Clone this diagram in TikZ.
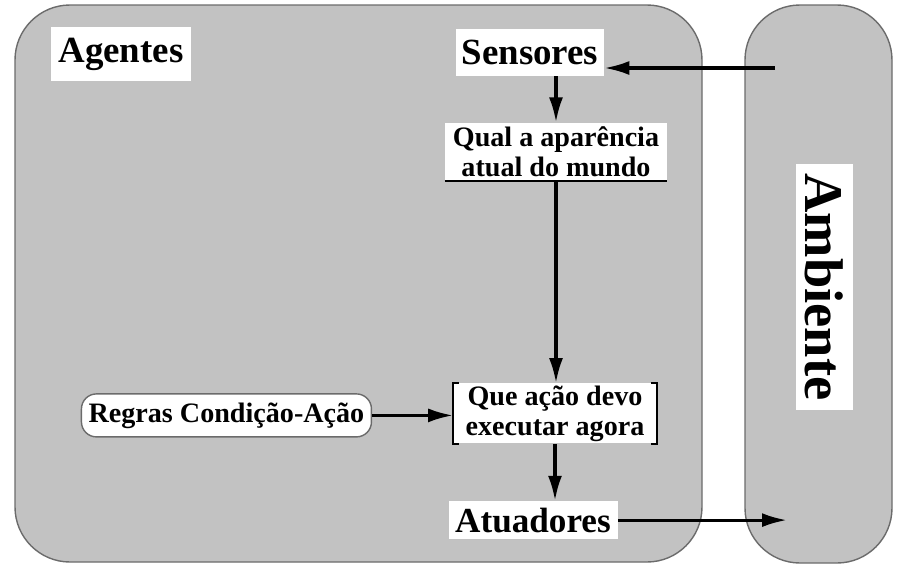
\documentclass[tikz,border=0pt]{standalone}
\usepackage{fontspec}
\setmainfont{Liberation Serif}
\usetikzlibrary{arrows.meta, positioning}
\definecolor{panelgray}{gray}{0.76}
\definecolor{edgegray}{gray}{0.42}
\tikzset{
    panel/.style={fill=panelgray, draw=edgegray, line width=0.8pt, rounded corners=1.1cm},
    box/.style={fill=white, inner sep=0pt, align=center, font=\bfseries\fontsize{16}{17}\selectfont},
    bigbox/.style={fill=white, inner sep=0pt, font=\bfseries\fontsize{21}{22}\selectfont},
    arrow/.style={-{Latex[length=0.5cm, width=0.28cm]}, line width=1.8pt, black}
}
\begin{document}
\begin{tikzpicture}
        \useasboundingbox (0,0) rectangle (18,-11.54);
        \draw [panel] (0.30,-0.10) rectangle (14.04,-11.24);
        \draw [panel] (14.90,-0.10) rectangle (17.84,-11.26);
        \node [bigbox, minimum width=2.8cm, minimum height=1.08cm] (ag) at (2.42,-1.08) {Agentes};
        \node [bigbox, minimum width=2.96cm, minimum height=0.94cm] (sens) at (10.60,-1.05) {Sensores};
        \node [box, below=0.92cm of sens, xshift=0.52cm, minimum width=4.44cm, minimum height=1.16cm] (qual) {Qual a aparência\\atual do mundo};
        \node [box, below=4.04cm of qual, xshift=-0.02cm, minimum width=4.06cm, minimum height=1.2cm] (acao) {Que ação devo\\executar agora};
        \node [bigbox, font=\bfseries\fontsize{20}{21}\selectfont, below=1.14cm of acao, xshift=-0.44cm, minimum width=3.38cm, minimum height=0.76cm] (atu) {Atuadores};
        \node [box, draw=edgegray, line width=0.8pt, rounded corners=0.3cm, left=1.62cm of acao, yshift=-0.04cm, minimum width=5.8cm, minimum height=0.86cm] (regras) {Regras Condição-Ação};
        \node [bigbox, font=\bfseries\fontsize{31}{32}\selectfont, rotate=-90, minimum width=4.92cm, minimum height=1.14cm] (amb) at (16.49,-5.74) {Ambiente};
        \draw [line width=1.1pt] (qual.south west) -- (qual.south east);
        \draw [line width=1.1pt] ([xshift=0.12cm]acao.north west) -- (acao.north west) -- (acao.south west) -- ++(0.12,0);
        \draw [line width=1.1pt] ([xshift=-0.12cm]acao.north east) -- (acao.north east) -- (acao.south east) -- ++(-0.12,0);
        \coordinate (envin) at (15.5,-1.36);
        \coordinate (envout) at (15.74,-10.34);
        \draw [arrow] (envin) -- (envin -| sens.east);
        \draw [arrow] (qual.north |- sens.south) -- (qual.north);
        \draw [arrow] (qual.south) -- (qual.south |- acao.north);
        \draw [arrow] (regras.east) -- (regras.east -| acao.west);
        \draw [arrow] (acao.south) -- (acao.south |- atu.north);
        \draw [arrow] (atu.east) -- (atu.east -| envout);
    \end{tikzpicture}
\end{document}
